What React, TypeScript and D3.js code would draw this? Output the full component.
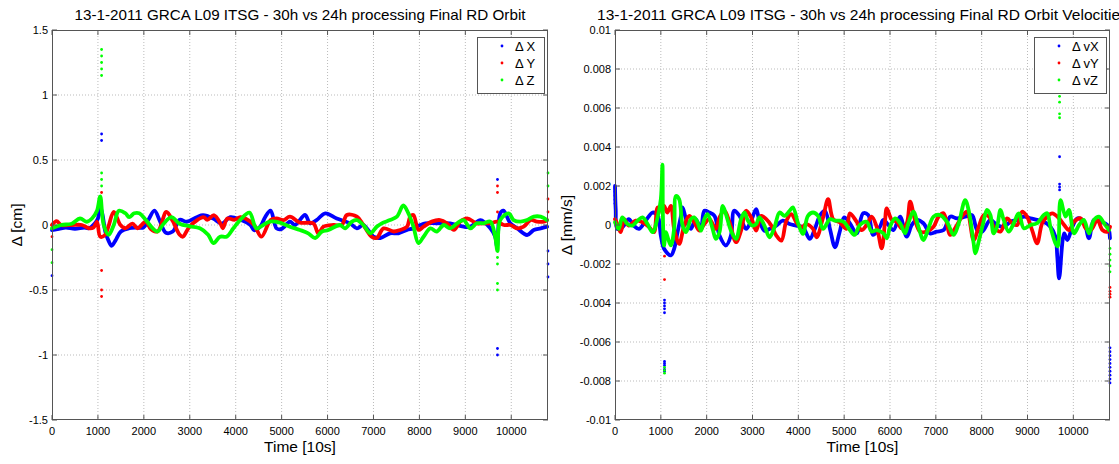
import React from "react";
import * as d3 from "d3";

// ---------- DATA ----------
const xTicks = [0, 1000, 2000, 3000, 4000, 5000, 6000, 7000, 8000, 9000, 10000];
const xMax = 10800;
const posTicks = [-1.5, -1, -0.5, 0, 0.5, 1, 1.5];
const velTicks = [-0.01, -0.008, -0.006, -0.004, -0.002, 0, 0.002, 0.004, 0.006, 0.008, 0.01];

const posTitle = "13-1-2011 GRCA L09 ITSG - 30h vs 24h processing Final RD Orbit";
const velTitle = "13-1-2011 GRCA L09 ITSG - 30h vs 24h processing Final RD Orbit Velocities";
const posLegend = ["\u0394 X", "\u0394 Y", "\u0394 Z"];
const velLegend = ["\u0394 vX", "\u0394 vY", "\u0394 vZ"];

// position differences [time(10s), cm]
const posX: [number, number][] = [
  [0, -0.04], [150, -0.03], [300, -0.02], [500, -0.03], [700, -0.02], [800, -0.025], [950, 0.02], [1000, 0.05], [1050, 0.14],
  [1100, 0.08], [1160, -0.05], [1230, -0.12], [1300, -0.16], [1380, -0.12], [1500, -0.05], [1680, -0.025], [1850, -0.02],
  [1990, -0.02], [2100, 0.04], [2230, 0.11], [2350, 0.03], [2480, -0.06], [2630, -0.05], [2780, 0.04], [2930, 0.025],
  [3150, 0.06], [3290, 0.075], [3510, 0.05], [3700, 0.01], [3880, 0.06], [4100, 0.04], [4320, 0.0], [4400, -0.04],
  [4540, -0.01], [4640, 0.06], [4760, 0.11], [4890, -0.026], [5000, -0.03], [5180, 0.026], [5290, 0.0], [5510, 0.077],
  [5620, 0.013], [5760, 0.038], [5950, 0.09], [6200, 0.05], [6490, 0.013], [6640, -0.026], [6780, 0.0], [7000, -0.09],
  [7150, -0.1], [7360, -0.064], [7545, -0.064], [7730, -0.038], [7870, -0.026], [8020, 0.0], [8130, 0.013], [8380, 0.013],
  [8670, 0.013], [8960, -0.013], [9110, -0.013], [9330, 0.038], [9545, -0.026], [9650, -0.09], [9690, -0.17],
  [9760, 0.09], [9830, 0.11], [9980, 0.013], [10130, -0.026], [10345, -0.077], [10490, -0.038], [10640, -0.026], [10780, -0.013],
];
const posY: [number, number][] = [
  [0, 0.0], [100, 0.03], [200, 0.0], [430, 0.0], [650, 0.0], [800, -0.025], [900, -0.02], [980, 0.025], [1050, -0.09],
  [1160, -0.075], [1230, -0.01], [1345, 0.1], [1490, 0.0], [1600, -0.025], [1750, 0.01], [1860, -0.025], [2040, 0.025],
  [2150, -0.03], [2300, -0.05], [2490, 0.1], [2630, 0.03], [2780, -0.075], [2850, -0.09], [3000, -0.01], [3300, 0.06],
  [3380, 0.04], [3530, 0.075], [3670, 0.01], [3720, -0.025], [3820, 0.05], [3970, 0.04], [4100, 0.06], [4210, 0.05],
  [4400, 0.0], [4560, -0.09], [4760, 0.038], [4890, 0.05], [5040, 0.038], [5180, 0.064], [5400, 0.018], [5690, 0.013],
  [5800, -0.064], [5910, -0.013], [6130, 0.0], [6310, 0.0], [6420, 0.077], [6640, 0.064], [6780, 0.0], [6960, -0.09],
  [7070, -0.1], [7220, -0.026], [7440, -0.05], [7580, -0.038], [7730, -0.013], [7800, 0.064], [7870, 0.077], [7980, -0.038],
  [8090, -0.013], [8270, 0.026], [8450, 0.038], [8600, 0.013], [8750, -0.038], [8890, 0.026], [9040, 0.05], [9250, 0.013],
  [9400, 0.013], [9545, 0.013], [9690, 0.026], [9840, 0.0], [9980, 0.0], [10130, -0.026], [10270, -0.013], [10420, 0.038],
  [10560, 0.026], [10710, 0.026], [10780, 0.038],
];
const posZ: [number, number][] = [
  [0, -0.025], [200, 0.0], [430, 0.01], [610, 0.05], [760, 0.025], [870, 0.05], [980, 0.11], [1050, 0.22], [1125, 0.0],
  [1235, -0.075], [1345, 0.0], [1456, 0.11], [1600, 0.09], [1680, 0.06], [1790, 0.09], [1900, 0.09], [2040, 0.04],
  [2190, -0.025], [2300, -0.05], [2410, 0.0], [2600, 0.06], [2780, 0.01], [3000, -0.01], [3220, -0.025], [3400, -0.075],
  [3515, -0.14], [3660, -0.09], [3800, -0.09], [3950, -0.025], [4100, 0.04], [4300, 0.095], [4450, -0.026], [4600, 0.0],
  [4745, 0.026], [4960, 0.018], [5180, -0.013], [5400, -0.038], [5580, -0.064], [5730, -0.1], [5880, -0.05], [6020, -0.038],
  [6270, 0.0], [6380, -0.026], [6530, 0.026], [6640, 0.038], [6780, 0.0], [6930, -0.064], [7070, -0.013], [7180, 0.013],
  [7360, 0.038], [7510, 0.064], [7650, 0.15], [7760, 0.09], [7870, -0.013], [7980, -0.14], [8090, -0.09], [8240, -0.026],
  [8380, -0.05], [8530, 0.0], [8670, -0.026], [8820, 0.013], [8960, 0.038], [9110, -0.026], [9250, 0.013], [9400, 0.013],
  [9545, 0.026], [9650, -0.09], [9700, -0.2], [9760, 0.038], [9945, 0.09], [10050, 0.038], [10200, 0.026], [10345, 0.038],
  [10490, 0.064], [10640, 0.064], [10780, 0.038],
];
// isolated samples (jumps at arc boundaries)
const posXDots: [number, number][] = [[0, -0.39], [1080, 0.7], [1080, 0.65], [9700, 0.35], [9700, -0.95], [9700, -1.0], [10800, -0.2], [10800, -0.3], [10800, -0.4]];
const posYDots: [number, number][] = [[0, -0.09], [1080, 0.25], [1080, -0.35], [1080, -0.5], [1080, -0.55], [9700, 0.3], [9700, 0.25], [9700, 0.1], [10800, 0.2], [10800, 0.1]];
const posZDots: [number, number][] = [[0, -0.19], [0, -0.29], [1080, 1.35], [1080, 1.3], [1080, 1.25], [1080, 1.2], [1080, 1.15], [1080, 0.4], [1080, 0.35], [1080, 0.3], [9700, -0.25], [9700, -0.3], [9700, -0.45], [9700, -0.5], [10800, 0.4], [10800, 0.3]];

// velocity differences [time(10s), mm/s]
const velX: [number, number][] = [
  [0, 0.002], [15, 0.0008], [50, -0.0002], [160, -0.00012], [300, 0.0003], [410, -0.00003], [525, -0.0002], [670, 0.00022],
  [820, 0.00064], [930, 0.00047], [1000, -0.00054], [1070, -0.00122], [1220, -0.00156], [1290, -0.00122], [1365, -0.00037],
  [1440, 0.00047], [1475, 0.0009], [1550, 0.0003], [1655, -0.0002], [1760, 0.0003], [1875, -0.0002], [1950, 0.00073],
  [2060, 0.00064], [2170, 0.00047], [2280, -0.00054], [2420, -0.00105], [2530, -0.00054], [2600, 0.00073], [2715, 0.00047],
  [2860, -0.0002], [2970, 0.00022], [3080, 0.00081], [3150, 0.00022], [3260, -0.00029], [3370, -0.0002], [3520, -0.00003],
  [3660, 0.00022], [3810, 0.00005], [3955, -0.00003], [4100, -0.00012], [4250, -0.00071], [4360, -0.0002], [4470, 0.00047],
  [4580, 0.00073], [4690, -0.0002], [4800, -0.00114], [4900, -0.00037], [5000, 0.00039], [5124, 0.00009], [5270, -0.00043],
  [5415, 0.0006], [5525, 0.00051], [5635, -0.00051], [5780, -0.00009], [5855, 0.00026], [5965, 0.0], [6075, -0.00026],
  [6220, 0.00043], [6365, -0.0006], [6475, 0.0], [6585, 0.00026], [6730, 0.00009], [6875, -0.00043], [7020, -0.00034],
  [7170, -0.00026], [7315, 0.00043], [7460, 0.00034], [7640, 0.00043], [7790, 0.00051], [7900, -0.00026], [8010, -0.00034],
  [8190, 0.00026], [8335, 0.0], [8480, -0.00009], [8630, 0.00017], [8775, 0.00026], [8920, 0.00043], [9065, 0.00034],
  [9210, 0.00026], [9360, 0.00017], [9500, -0.00009], [9610, -0.0006], [9650, -0.00162], [9690, -0.00274], [9800, -0.00043],
  [9870, -0.00077], [9980, -0.00009], [10090, 0.00034], [10230, 0.00017], [10340, -0.00068], [10450, 0.00026], [10600, 0.00017],
  [10740, 0.0], [10800, -0.00068],
];
const velY: [number, number][] = [
  [0, 0.0003], [50, 0.00005], [125, -0.00037], [200, 0.0003], [300, -0.00003], [450, 0.00022], [600, 0.00014], [750, -0.00012],
  [850, -0.00037], [930, 0.0009], [1000, 0.00073], [1070, 0.00098], [1140, 0.00064], [1220, 0.00098], [1290, -0.0002],
  [1400, -0.00097], [1510, -0.00003], [1620, 0.00047], [1730, 0.00014], [1840, -0.00029], [1950, 0.00005], [2060, 0.0003],
  [2200, -0.0002], [2280, 0.00039], [2390, 0.00073], [2500, 0.00014], [2640, -0.00088], [2750, -0.00029], [2860, 0.00073],
  [2970, 0.00039], [3080, -0.00029], [3190, 0.00047], [3300, 0.0003], [3410, -0.00003], [3520, -0.00054], [3630, -0.0008],
  [3740, 0.00022], [3850, 0.00056], [3955, 0.00014], [4065, -0.00012], [4175, 0.00005], [4320, -0.0002], [4400, -0.00063],
  [4540, 0.00039], [4650, 0.00132], [4760, 0.0003], [4900, 0.00014], [5050, -0.0002], [5124, 0.0006], [5270, 0.00017],
  [5380, -0.00026], [5490, 0.0], [5600, 0.00043], [5710, -0.00009], [5820, -0.0012], [5890, 0.00017], [5930, 0.00085],
  [6040, 0.00026], [6146, 0.00017], [6255, -0.00017], [6365, 0.00009], [6440, 0.0012], [6545, 0.00026], [6655, -0.00034],
  [6800, -0.00034], [6950, -0.00009], [7060, 0.00043], [7170, 0.0006], [7315, -0.00051], [7420, -0.00017], [7570, 0.00043],
  [7680, 0.00068], [7825, -0.00077], [7935, -0.00009], [8050, 0.00051], [8160, 0.00043], [8265, -0.00009], [8410, -0.00034],
  [8555, 0.00034], [8665, 0.00009], [8775, 0.0], [8880, 0.00068], [8990, 0.00043], [9100, -0.00026], [9210, -0.00094],
  [9320, 0.00009], [9430, 0.00043], [9540, 0.0006], [9690, 0.00034], [9800, 0.0], [9905, -0.00026], [10015, 0.00017],
  [10160, 0.00034], [10270, -0.00017], [10380, -0.00026], [10525, 0.00026], [10635, -0.00026], [10745, -0.00034], [10800, -0.00009],
];
const velZ: [number, number][] = [
  [0, 0.00014], [80, -0.0002], [160, 0.00039], [270, 0.00005], [380, -0.00003], [490, 0.00022], [600, 0.00039], [710, 0.00005],
  [820, -0.00037], [930, 0.00039], [1000, 0.00132], [1035, 0.0031], [1045, 0.00047], [1070, -0.00105], [1110, -0.00037],
  [1160, -0.00071], [1220, -0.00105], [1290, -0.0002], [1330, 0.00149], [1400, 0.00132], [1475, -0.00003], [1550, -0.00037],
  [1655, 0.0003], [1730, 0.00039], [1800, 0.00014], [1875, -0.00029], [1950, 0.0003], [2020, 0.00056], [2130, -0.0002],
  [2200, -0.00071], [2280, -0.00037], [2350, 0.00098], [2420, 0.00056], [2530, -0.00029], [2640, -0.00071], [2750, 0.0003],
  [2825, 0.00064], [2900, 0.00022], [3000, -0.00003], [3080, 0.00005], [3150, 0.00039], [3260, -0.00003], [3370, -0.00063],
  [3480, -0.00012], [3590, 0.00064], [3700, 0.00047], [3810, 0.00073], [3880, 0.0009], [4000, 0.00005], [4100, -0.00046],
  [4210, 0.00047], [4320, 0.00064], [4430, 0.00047], [4540, -0.0002], [4690, 0.0003], [4800, 0.00022], [4900, 0.00022],
  [5000, 0.00014], [5124, -0.00026], [5230, -0.00051], [5340, 0.0], [5490, 0.00017], [5600, -0.00034], [5710, -0.00026],
  [5855, -0.00043], [5930, -0.00068], [6000, -0.00009], [6110, 0.00034], [6220, 0.00009], [6330, -0.00043], [6400, 0.00009],
  [6510, 0.00068], [6620, -0.00009], [6730, -0.00077], [6840, -0.00017], [6950, 0.00043], [7095, 0.00051], [7240, 0.00017],
  [7390, -0.00051], [7500, 0.00009], [7640, 0.00128], [7715, 0.00077], [7825, -0.00094], [7860, -0.00145], [7970, -0.00051],
  [8040, 0.00017], [8115, 0.00077], [8190, 0.00051], [8260, -0.00043], [8335, -0.00009], [8410, 0.00077], [8480, 0.00026],
  [8590, -0.00034], [8700, 0.00009], [8810, 0.0006], [8920, -0.00017], [9065, 0.0], [9210, 0.00009], [9355, 0.00051],
  [9430, 0.0006], [9500, -0.00009], [9610, -0.00094], [9660, -0.0011], [9720, 0.00128], [9830, 0.00043], [9905, 0.00077],
  [10015, -0.00043], [10125, 0.0], [10230, 0.00026], [10340, -0.00043], [10450, 0.00026], [10560, 0.00043], [10670, 0.00009],
  [10780, -0.00026],
];
const velXDots: [number, number][] = [
  [0, 0.0019], [0, 0.0017], [0, 0.0015], [0, 0.0013], [0, 0.0011],
  [1080, -0.00385], [1080, -0.004], [1080, -0.00415], [1080, -0.0043], [1080, -0.0045], [1080, -0.007], [1080, -0.0071],
  [1080, -0.0072], [1080, -0.0074], [1080, -0.0075], [9700, 0.0035], [9700, 0.0021], [9700, 0.00195], [9700, 0.0018],
  [10800, -0.0063], [10800, -0.0065], [10800, -0.0067], [10800, -0.0069], [10800, -0.0071], [10800, -0.0073], [10800, -0.0075],
  [10800, -0.0077], [10800, -0.0079], [10800, -0.0081],
];
const velYDots: [number, number][] = [[1080, -0.0016], [1080, -0.0028], [10800, -0.0032], [10800, -0.0034], [10800, -0.00355], [10800, -0.0037]];
const velZDots: [number, number][] = [
  [1080, -0.0073], [1080, -0.00745], [1080, -0.0076], [9700, 0.007], [9700, 0.0068], [9700, 0.0066], [9700, 0.0063],
  [9700, 0.0057], [9700, 0.0055], [10800, -0.0012], [10800, -0.0015], [10800, -0.0018], [10800, -0.0021], [10800, -0.0024],
];

const colors = ["#0000ff", "#ff0000", "#00ff00"];
const FONT = "'Liberation Sans', Arial, Helvetica, sans-serif";

type Series = { line: [number, number][]; dots: [number, number][] };

function Panel(props: {
  left: number; right: number; top: number; bottom: number;
  yDomain: [number, number]; yTicks: number[]; yFmt: (v: number) => string;
  title: string; titleLen: number; yLabel: string; yLabelX: number; legend: string[]; series: Series[];
  legendBox: { x: number; w: number };
}) {
  const { left, right, top, bottom, yDomain, yTicks, title, yLabel, legend, series, legendBox } = props;
  const x = d3.scaleLinear().domain([0, xMax]).range([left, right]);
  const y = d3.scaleLinear().domain(yDomain).range([bottom, top]);
  const line = d3.line<[number, number]>().x((d) => x(d[0])).y((d) => y(d[1])).curve(d3.curveCatmullRom.alpha(0.5));
  const cx = (left + right) / 2;
  const axisColor = "#555";
  const tl = 5;
  return (
    <g>
      <rect x={left} y={top} width={right - left} height={bottom - top} fill="#fff" />
      {xTicks.filter((t) => t > 0).map((t) => (
        <line key={"gx" + t} x1={x(t)} x2={x(t)} y1={top} y2={bottom} stroke="#bbb" strokeWidth={1} strokeDasharray="1,2" />
      ))}
      {yTicks.filter((t) => t !== yDomain[0] && t !== yDomain[1]).map((t) => (
        <line key={"gy" + t} x1={left} x2={right} y1={y(t)} y2={y(t)} stroke="#bbb" strokeWidth={1} strokeDasharray="1,2" />
      ))}
      {series.map((s, i) => (
        <path key={"l" + i} d={line(s.line) || ""} fill="none" stroke={colors[i]} strokeWidth={3.8} strokeLinejoin="round" strokeLinecap="round" />
      ))}
      {series.map((s, i) =>
        s.dots.map((d, j) => <circle key={"d" + i + "-" + j} cx={x(d[0])} cy={y(d[1])} r={1.4} fill={colors[i]} />)
      )}
      <rect x={left + 0.5} y={top + 0.5} width={right - left - 1} height={bottom - top - 1} fill="none" stroke={axisColor} strokeWidth={1} />
      {xTicks.map((t) => (
        <g key={"tx" + t}>
          <line x1={x(t)} x2={x(t)} y1={bottom} y2={bottom - tl} stroke={axisColor} />
          <line x1={x(t)} x2={x(t)} y1={top} y2={top + tl} stroke={axisColor} />
          <text x={x(t)} y={bottom + 15} textAnchor="middle" fontSize={11} fontFamily={FONT} fill="#000">{t}</text>
        </g>
      ))}
      {yTicks.map((t) => (
        <g key={"ty" + t}>
          <line x1={left} x2={left + tl} y1={y(t)} y2={y(t)} stroke={axisColor} />
          <line x1={right} x2={right - tl} y1={y(t)} y2={y(t)} stroke={axisColor} />
          <text x={left - 4} y={y(t) + 4} textAnchor="end" fontSize={11} fontFamily={FONT} fill="#000">{props.yFmt(t)}</text>
        </g>
      ))}
      <text x={cx} y={20} textAnchor="middle" fontSize={15} fontFamily={FONT} fill="#000" textLength={props.titleLen} lengthAdjust="spacingAndGlyphs">{title}</text>
      <text x={cx} y={452} textAnchor="middle" fontSize={15.5} fontFamily={FONT} fill="#000">Time [10s]</text>
      <text transform={`translate(${props.yLabelX},${(top + bottom) / 2}) rotate(-90)`} textAnchor="middle" fontSize={15.5} fontFamily={FONT} fill="#000">{yLabel}</text>
      <rect x={legendBox.x + 0.5} y={37.5} width={legendBox.w} height={56} fill="#fff" stroke={axisColor} strokeWidth={1} />
      {legend.map((lab, i) => (
        <g key={"lg" + i}>
          <circle cx={legendBox.x + 25} cy={46 + i * 17} r={1.4} fill={colors[i]} />
          <text x={legendBox.x + 38} y={51 + i * 17} fontSize={13} fontFamily={FONT} fill="#000">{lab}</text>
        </g>
      ))}
    </g>
  );
}

const fmtPos = (v: number) => String(v);
const fmtVel = (v: number) => (v === 0 ? "0" : String(Number(v.toFixed(3))));

export default function App() {
  return (
    <svg width={1119} height={464} style={{ position: "absolute", left: 0, top: 0, display: "block", background: "#fff" }}>
      <rect x={0} y={0} width={1119} height={464} fill="#fff" />
      <Panel
        left={52} right={548} top={30} bottom={420}
        yDomain={[-1.5, 1.5]} yTicks={posTicks} yFmt={fmtPos}
        title={posTitle} titleLen={451} yLabel={"\u0394 [cm]"} yLabelX={22} legend={posLegend}
        legendBox={{ x: 477, w: 67 }}
        series={[{ line: posX, dots: posXDots }, { line: posY, dots: posYDots }, { line: posZ, dots: posZDots }]}
      />
      <Panel
        left={615} right={1110} top={30} bottom={420}
        yDomain={[-0.01, 0.01]} yTicks={velTicks} yFmt={fmtVel}
        title={velTitle} titleLen={531} yLabel={"\u0394 [mm/s]"} yLabelX={572} legend={velLegend}
        legendBox={{ x: 1034, w: 72 }}
        series={[{ line: velX, dots: velXDots }, { line: velY, dots: velYDots }, { line: velZ, dots: velZDots }]}
      />
    </svg>
  );
}
